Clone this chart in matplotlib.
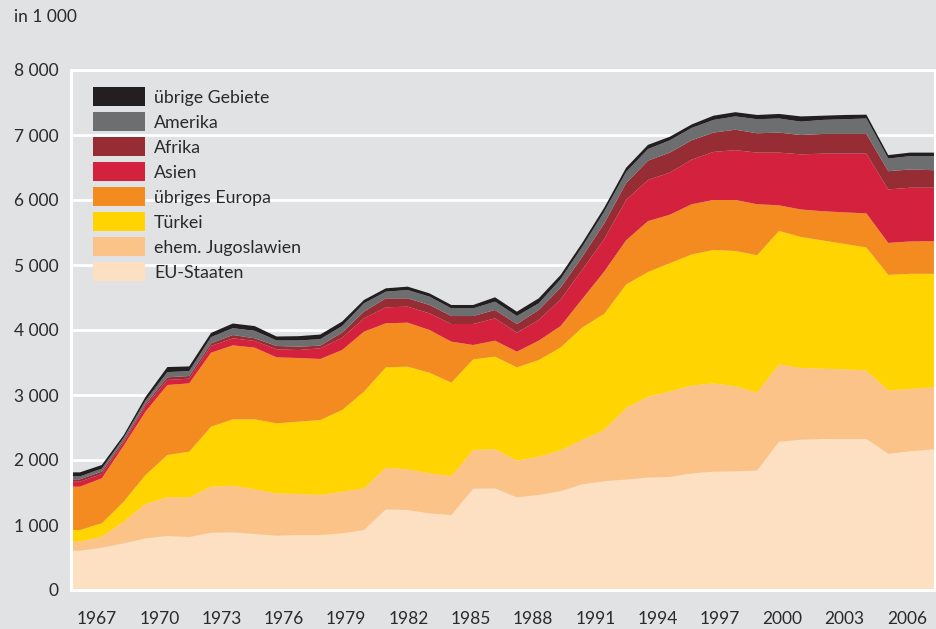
# -*- coding=utf-8 -*-
import matplotlib
matplotlib.use('Agg')
import matplotlib.pyplot as plt
import numpy as np
from matplotlib.patches import Rectangle

plt.rcParams['font.family'] = ['Lato', 'DejaVu Sans']

# Ausländische Bevölkerung nach Herkunft, in 1 000
years = list(range(1967, 2007))
eu_staaten = [605, 651, 718, 795, 831, 815, 882, 887, 862, 836, 846, 846, 872, 923,
              1241, 1231, 1180, 1154, 1559, 1564, 1426, 1462, 1520, 1628, 1674, 1700,
              1730, 1740, 1794, 1821, 1827, 1838, 2281, 2313, 2324, 2324, 2324, 2097,
              2135, 2162]
jugoslawien = [139, 170, 333, 528, 595, 611, 708, 718, 687, 651, 631, 616, 641, 641,
               641, 625, 615, 600, 595, 600, 564, 589, 630, 682, 791, 1101, 1243, 1314,
               1352, 1357, 1308, 1200, 1189, 1103, 1081, 1070, 1054, 973, 957, 957]
tuerkei = [179, 205, 308, 446, 651, 702, 923, 1021, 1077, 1077, 1113, 1153, 1256, 1487,
           1544, 1580, 1549, 1436, 1395, 1426, 1436, 1487, 1580, 1731, 1785, 1899, 1919,
           1973, 2016, 2054, 2081, 2113, 2054, 2016, 1973, 1930, 1892, 1778, 1773, 1746]
uebr_europa = [667, 692, 861, 975, 1077, 1051, 1138, 1138, 1102, 1015, 979, 939, 923,
               923, 677, 677, 656, 631, 220, 246, 241, 298, 330, 439, 650, 680, 783, 746,
               773, 768, 784, 784, 394, 422, 449, 486, 524, 492, 497, 502]
asien = [77, 67, 50, 87, 77, 72, 103, 108, 103, 124, 123, 164, 188, 205, 246, 246, 256,
         271, 323, 343, 292, 318, 410, 450, 500, 620, 633, 648, 686, 740, 767, 794, 811,
         848, 886, 903, 919, 822, 827, 822]
afrika = [36, 36, 30, 31, 41, 41, 41, 51, 41, 51, 52, 41, 80, 103, 138, 128, 129, 123,
          123, 129, 133, 154, 180, 200, 240, 260, 297, 308, 297, 297, 314, 298, 308, 298,
          303, 303, 303, 281, 281, 270]
amerika = [45, 45, 40, 50, 80, 75, 95, 105, 115, 85, 95, 100, 100, 128, 103, 128, 128,
           118, 118, 128, 123, 102, 130, 153, 180, 170, 178, 189, 190, 195, 205, 216, 217,
           205, 216, 227, 238, 194, 205, 216]
uebr_gebiete = [62, 57, 41, 58, 78, 73, 65, 72, 73, 61, 66, 71, 70, 52, 51, 52, 51, 52,
                52, 67, 67, 77, 66, 60, 62, 66, 65, 55, 54, 65, 65, 65, 70, 81, 65, 65,
                59, 54, 54, 54]

names = ['EU-Staaten', 'ehem. Jugoslawien', 'Türkei', 'übriges Europa', 'Asien',
         'Afrika', 'Amerika', 'übrige Gebiete']
colors = ['#fde0c2', '#fcc388', '#ffd400', '#f48b20', '#d4213d', '#962d34',
          '#6d6e70', '#231f20']
yticks = [0, 1000, 2000, 3000, 4000, 5000, 6000, 7000, 8000]
xlabels = [1967, 1970, 1973, 1976, 1979, 1982, 1985, 1988, 1991, 1994, 1997, 2000,
           2003, 2006]

bg = '#e1e2e4'
txt = '#2a2a2a'
W, H = 937, 629


def px(x, y):
    # Pixel (von oben links) -> Figurkoordinaten
    return x / W, 1 - y / H


def legend_box(fig):
    # Legende von Hand: oberste Zeile = oberste Fläche
    for i, (name, c) in enumerate(zip(names[::-1], colors[::-1])):
        top = 87 + i * 25
        x, y = px(93, top + 19)
        fig.add_artist(Rectangle((x, y), 52 / W, 19 / H, transform=fig.transFigure,
                                 facecolor=c, edgecolor='none'))
        tx, ty = px(154, top + 16)
        fig.text(tx, ty, name, ha='left', va='baseline', fontsize=12.8, color=txt)


def main():
    fig = plt.figure(figsize=(W / 100, H / 100), dpi=100, facecolor=bg)
    ax = fig.add_axes([71 / W, 39 / H, 864 / W, 520 / H], facecolor=bg)

    x0, x1 = 1966.59, 2006.14
    ax.set_xlim(x0, x1)
    ax.set_ylim(0, 8000)

    # Flächen bis an den Rand ziehen
    xs = np.r_[x0, years, x1]
    series = [eu_staaten, jugoslawien, tuerkei, uebr_europa, asien, afrika, amerika,
              uebr_gebiete]
    ys = [np.r_[s[0], s, s[-1]] for s in series]
    ax.stackplot(xs, ys, colors=colors, linewidth=0)

    ax.set_axisbelow(True)
    ax.grid(axis='y', color='white', linewidth=2)
    for s in ax.spines.values():
        s.set_color('white')
        s.set_linewidth(2.2)
        s.set_zorder(5)

    ax.set_yticks(yticks)
    ax.set_yticklabels([f'{v:,}'.replace(',', ' ') for v in yticks])
    ax.tick_params(axis='y', length=0, pad=9, labelsize=12.5, labelcolor=txt)
    ax.tick_params(axis='x', length=0, labelbottom=False)

    # Jahreszahlen wie im Original leicht versetzt gesetzt
    lab = ax.twiny()
    lab.set_xlim(1965.75, 2007.35)
    lab.xaxis.set_ticks_position('bottom')
    lab.set_xticks(xlabels)
    lab.set_xticklabels([str(y) for y in xlabels])
    lab.tick_params(axis='x', length=0, pad=15, labelsize=12.5, labelcolor=txt,
                    labelbottom=True, labeltop=False)
    for s in lab.spines.values():
        s.set_visible(False)

    tx, ty = px(14, 17)
    fig.text(tx, ty, 'in 1 000', ha='left', va='center', fontsize=12.5, color=txt)

    legend_box(fig)

    fig.savefig('out.png', dpi=100, facecolor=bg)


if __name__ == '__main__':
    main()
